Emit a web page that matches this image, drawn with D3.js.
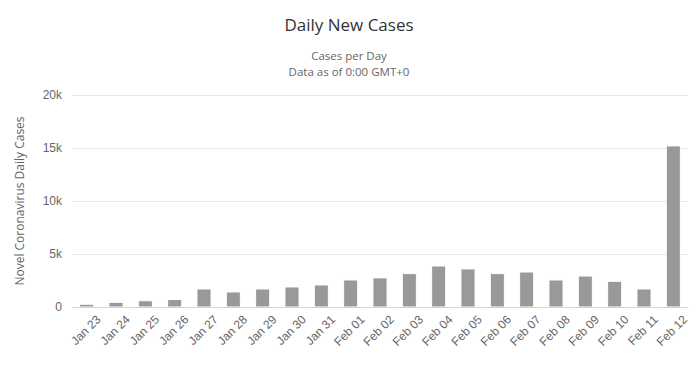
<!DOCTYPE html>
<html>
<head>
<meta charset="utf-8">
<script src="https://cdn.jsdelivr.net/npm/d3@7"></script>
<style>
  body { margin: 0; background: #fff; }
  svg { font-family: "Open Sans", sans-serif; }
</style>
</head>
<body>
<svg width="700" height="367"></svg>
<script>
const width = 700
const height = 367
const marginTop = 95
const marginBottom = 60
const marginLeft = 72
const marginRight = 12

const days = ["Jan 23", "Jan 24", "Jan 25", "Jan 26", "Jan 27", "Jan 28", "Jan 29", "Jan 30", "Jan 31",
  "Feb 01", "Feb 02", "Feb 03", "Feb 04", "Feb 05", "Feb 06", "Feb 07", "Feb 08", "Feb 09", "Feb 10", "Feb 11", "Feb 12"]
const cases = [260, 440, 590, 700, 1700, 1420, 1700, 1890, 2080, 2550, 2750, 3150, 3870, 3590, 3150, 3300, 2550, 2920, 2420, 1700, 15200]
const yTicks = [0, 5000, 10000, 15000, 20000]

const svg = d3.select("svg")

const x = d3.scaleBand()
  .domain(days)
  .range([marginLeft, width - marginRight])
  .paddingInner(0.52)
  .paddingOuter(0.26)

const y = d3.scaleLinear()
  .domain([0, 20000])
  .range([height - marginBottom, marginTop])

// title block
svg.append("text")
  .attr("x", 349).attr("y", 31)
  .attr("text-anchor", "middle")
  .style("font-size", "17px").style("fill", "#333")
  .text("Daily New Cases")

svg.append("text")
  .attr("x", 349).attr("y", 60)
  .attr("text-anchor", "middle")
  .style("font-size", "11.5px").style("fill", "#666")
  .text("Cases per Day")

svg.append("text")
  .attr("x", 349).attr("y", 76)
  .attr("text-anchor", "middle")
  .style("font-size", "11.5px").style("fill", "#666")
  .text("Data as of 0:00 GMT+0")

// grid + y labels
const yAxis = d3.axisLeft(y)
  .tickValues(yTicks)
  .tickSize(-(width - marginLeft - marginRight))
  .tickPadding(10)
  .tickFormat(d => d === 0 ? "0" : (d / 1000) + "k")

svg.append("g")
  .attr("transform", `translate(${marginLeft},0)`)
  .call(yAxis)
  .call(g => g.select(".domain").remove())
  .call(g => g.selectAll(".tick line").attr("stroke", "#e6e6e6"))
  .call(g => g.selectAll(".tick text").style("font-size", "12px").style("fill", "#666"))

svg.append("text")
  .attr("transform", `translate(24,${(marginTop + height - marginBottom) / 2}) rotate(-90)`)
  .attr("text-anchor", "middle")
  .style("font-size", "12px").style("fill", "#666")
  .text("Novel Coronavirus Daily Cases")

// bars
svg.append("g")
  .selectAll("rect")
  .data(cases)
  .join("rect")
  .attr("x", (d, i) => x(days[i]))
  .attr("y", d => y(d))
  .attr("width", x.bandwidth())
  .attr("height", d => y(0) - y(d))
  .attr("fill", "#999")
  .attr("stroke", "#fff")
  .attr("stroke-width", 1)

// x axis
const xAxis = d3.axisBottom(x).tickSize(0).tickPadding(15)

svg.append("g")
  .attr("transform", `translate(0,${height - marginBottom})`)
  .call(xAxis)
  .call(g => g.select(".domain").attr("stroke", "#ccd6eb"))
  .call(g => g.selectAll(".tick text")
    .style("font-size", "12px").style("fill", "#666")
    .attr("text-anchor", "end")
    .attr("dx", "1")
    .attr("dy", "0.4em")
    .attr("transform", "rotate(-45)"))
</script>
</body>
</html>
